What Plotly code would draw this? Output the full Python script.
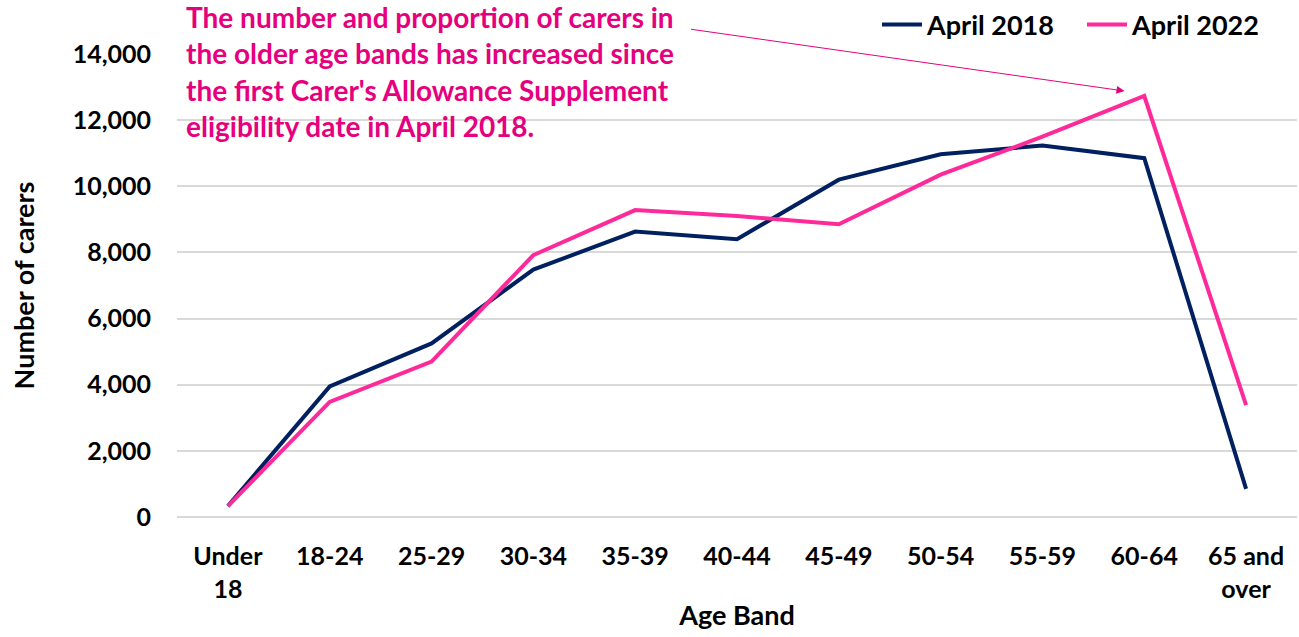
import plotly.graph_objects as go

# Age bands and carer counts
age_bands = ["Under<br>18", "18-24", "25-29", "30-34", "35-39", "40-44",
             "45-49", "50-54", "55-59", "60-64", "65 and<br>over"]
april_2018 = [330, 3950, 5250, 7480, 8630, 8400, 10200, 10970, 11230, 10850, 850]
april_2022 = [330, 3480, 4700, 7920, 9280, 9100, 8850, 10350, 11500, 12730, 3380]

y_ticks = [0, 2000, 4000, 6000, 8000, 10000, 12000, 14000]

NAVY = "#002060"
PINK = "#FF2A9A"
NOTE_PINK = "#E6007E"
FONT = "Lato"

fig = go.Figure()

fig.add_trace(go.Scatter(
    x=age_bands, y=april_2018, mode="lines", name="April 2018",
    line=dict(color=NAVY, width=4)
))
fig.add_trace(go.Scatter(
    x=age_bands, y=april_2022, mode="lines", name="April 2022",
    line=dict(color=PINK, width=4)
))

# Callout text
fig.add_annotation(
    xref="paper", yref="paper", x=0.006, y=1.121,
    xanchor="left", yanchor="top", align="left", showarrow=False,
    text=("The number and proportion of carers in<br>"
          "the older age bands has increased since<br>"
          "the first Carer's Allowance Supplement<br>"
          "eligibility date in April 2018."),
    font=dict(family=FONT, size=28, color=NOTE_PINK, weight="bold")
)

# Thin arrow pointing at the 60-64 peak
fig.add_annotation(
    xref="paper", yref="paper", x=0.846, y=0.920,
    ax=-435, ay=-62, text="", showarrow=True,
    arrowhead=2, arrowsize=1.6, arrowwidth=1, arrowcolor=NOTE_PINK
)

fig.update_layout(
    width=1299, height=637,
    margin=dict(l=177, r=2, t=53, b=120),
    paper_bgcolor="white", plot_bgcolor="white",
    font=dict(family=FONT, size=25, color="black", weight="bold"),
    legend=dict(
        orientation="h", x=0.625, y=1.113, xanchor="left", yanchor="top",
        font=dict(family=FONT, size=27, weight="bold"),
        bgcolor="rgba(0,0,0,0)", itemwidth=40, tracegroupgap=0,
        entrywidth=150, entrywidthmode="pixels"
    ),
    xaxis=dict(
        title=dict(text="Age Band", standoff=4,
                   font=dict(family=FONT, size=27, weight="bold")),
        showgrid=False, showline=False, ticks="", automargin=False,
        ticklabelstandoff=22,
        tickfont=dict(family=FONT, size=25, weight="bold"),
        range=[-0.5, 10.5]
    ),
    yaxis=dict(
        title=dict(text="Number of carers", standoff=30,
                   font=dict(family=FONT, size=27, weight="bold")),
        range=[0, 14000], tickvals=y_ticks, tickformat=",d",
        showgrid=True, gridcolor="#D9D9D9", gridwidth=2,
        zeroline=True, zerolinecolor="#D9D9D9", zerolinewidth=2,
        ticks="", ticklen=0, automargin=False, ticklabelstandoff=25,
        tickfont=dict(family=FONT, size=25, weight="bold")
    ),
)

# drop the default page margin so the figure sits at the window's corner
fig.write_html("out.html", config={"displayModeBar": False},
               post_script="document.body.style.margin='0';")
